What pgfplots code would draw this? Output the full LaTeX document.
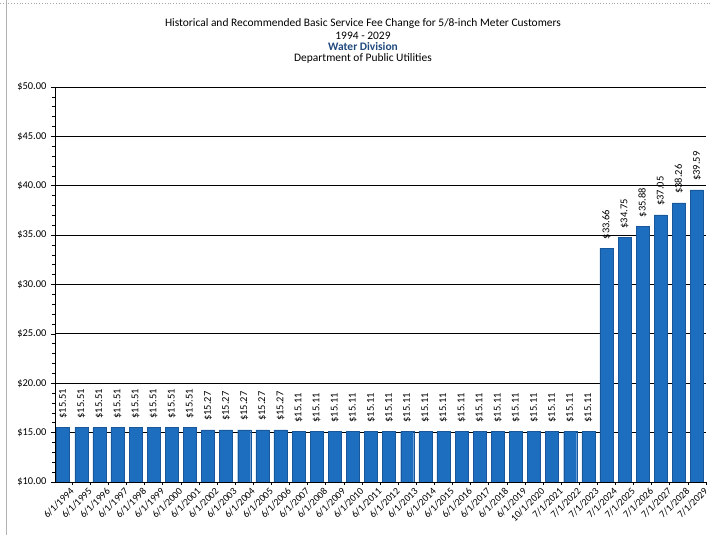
\documentclass[border=0pt]{standalone}
\usepackage{pgfplots}
\usepackage{pgfplotstable}
\pgfplotsset{compat=1.18}
\usepackage{fontspec}
\setmainfont{Carlito}

\definecolor{barblue}{RGB}{30,110,192}
\definecolor{divblue}{RGB}{31,73,125}

% Basic service fee (dollars per month), one row per effective date
\pgfplotstableread{
idx fee
0  15.51
1  15.51
2  15.51
3  15.51
4  15.51
5  15.51
6  15.51
7  15.51
8  15.27
9  15.27
10 15.27
11 15.27
12 15.27
13 15.11
14 15.11
15 15.11
16 15.11
17 15.11
18 15.11
19 15.11
20 15.11
21 15.11
22 15.11
23 15.11
24 15.11
25 15.11
26 15.11
27 15.11
28 15.11
29 15.11
30 33.66
31 34.75
32 35.88
33 37.05
34 38.26
35 39.59
}\feetable

\begin{document}
\begin{tikzpicture}
\path[use as bounding box] (0,0) rectangle (710bp,535bp);
\draw[gray!60, line width=0.8bp] (6bp,0) -- (6bp,535bp);
\draw[gray!70, dotted, line width=0.8bp] (0,532bp) -- (710bp,532bp);

\node[font=\fontsize{11.5}{12}\selectfont] at (363bp,511bp)
  {Historical and Recommended Basic Service Fee Change for 5/8-inch Meter Customers};
\node[font=\fontsize{11.5}{12}\selectfont] at (363bp,499bp) {1994 - 2029};
\node[font=\fontsize{11.5}{12}\selectfont\bfseries, text=divblue] at (363bp,488bp) {Water Division};
\node[font=\fontsize{11.5}{12}\selectfont] at (363bp,477bp) {Department of Public Utilities};

\begin{axis}[
  at={(55bp,53bp)}, anchor=south west,
  scale only axis, width=651bp, height=395bp,
  ybar, bar width=13bp,
  xmin=-0.45, xmax=35.5,
  ymin=10, ymax=50, ytick={10,15,...,50},
  minor y tick num=4,
  axis x line*=bottom, axis y line*=left,
  axis line style={black, line width=0.8bp},
  ymajorgrids, grid style={black, line width=0.8bp},
  tick align=outside,
  major tick length=4bp, minor tick length=3bp,
  tick style={black, line width=0.6bp},
  major x tick style={draw=none},
  xtick={0,...,35},
  minor xtick={-0.5,0.5,...,35.5},
  xticklabels={6/1/1994,6/1/1995,6/1/1996,6/1/1997,6/1/1998,6/1/1999,6/1/2000,6/1/2001,6/1/2002,6/1/2003,6/1/2004,6/1/2005,6/1/2006,6/1/2007,6/1/2008,6/1/2009,6/1/2010,6/1/2011,6/1/2012,6/1/2013,6/1/2014,6/1/2015,6/1/2016,6/1/2017,6/1/2018,6/1/2019,10/1/2020,7/1/2021,7/1/2022,7/1/2023,7/1/2024,7/1/2025,7/1/2026,7/1/2027,7/1/2028,7/1/2029},
  x tick label style={rotate=45, anchor=north east, inner sep=1bp,
    xshift=5bp, yshift=-4bp, font=\fontsize{10}{11}\selectfont},
  /pgf/number format/assume math mode=true,
  yticklabel={\$\pgfmathprintnumber[fixed,fixed zerofill,precision=2]{\tick}},
  y tick label style={font=\fontsize{10.5}{11}\selectfont, xshift=-1bp},
  nodes near coords={\$\pgfmathprintnumber[fixed,fixed zerofill,precision=2]{\pgfplotspointmeta}},
  nodes near coords style={rotate=90, anchor=west, inner xsep=9bp,
    font=\fontsize{10.5}{11}\selectfont},
]
\addplot[fill=barblue, draw=barblue!80!black, line width=0.3bp] table[x=idx, y=fee] {\feetable};
\end{axis}
\end{tikzpicture}
\end{document}
